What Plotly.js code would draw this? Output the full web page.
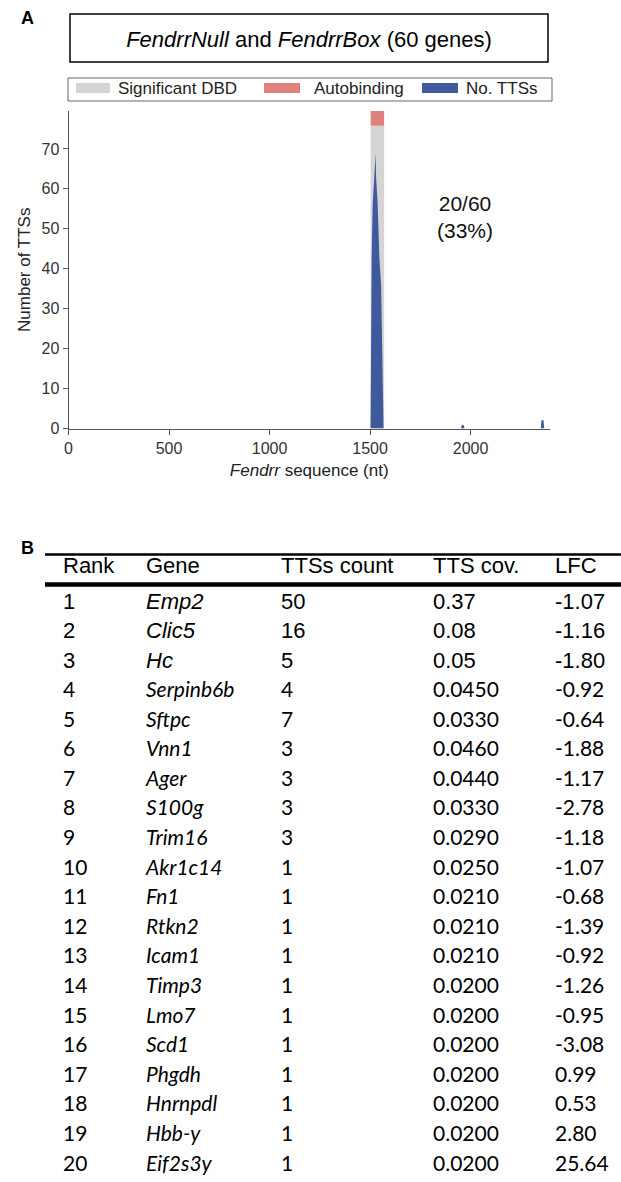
<!DOCTYPE html>
<html><head><meta charset="utf-8">
<script src="https://cdn.plot.ly/plotly-3.0.1.min.js"></script>
<style>html,body{margin:0;padding:0;background:#fff}#chart{width:621px;height:1182px}</style>
</head><body><div id="chart"></div>
<script>
// ---------- Panel A data ----------
const seqPos   = [0, 1502, 1503, 1505, 1508, 1513, 1520, 1528, 1530, 1538, 1546, 1555, 1558, 1563, 1566, 1567, 1952, 1955, 1961, 1967, 1970, 2349, 2352, 2355, 2363, 2366, 2390];
const ttsCount = [0, 0,    6,    31,   43,   56,   64,   69,   63,   56,   43,   36,   27,   14,   2,    0,    0,    0.7,  1,    0.7,  0,    0,    1.8,  2.2,  2.0,  0,    0];
const dbdRegion = [1503, 1570];
const dbdHeight = 75.8;
const autobindingHeight = 3.7;
const xTicks = [0, 500, 1000, 1500, 2000];
const yTicks = [0, 10, 20, 30, 40, 50, 60, 70];
const legendNames = ['Significant DBD', 'Autobinding', 'No. TTSs'];

// ---------- Panel B data ----------
const headers = ['Rank', 'Gene', 'TTSs count', 'TTS cov.', 'LFC'];
const ranks = ['1','2','3','4','5','6','7','8','9','10','11','12','13','14','15','16','17','18','19','20'];
const genes = ['Emp2','Clic5','Hc','Serpinb6b','Sftpc','Vnn1','Ager','S100g','Trim16','Akr1c14','Fn1','Rtkn2','Icam1','Timp3','Lmo7','Scd1','Phgdh','Hnrnpdl','Hbb-y','Eif2s3y'];
const ttsCounts = ['50','16','5','4','7','3','3','3','3','1','1','1','1','1','1','1','1','1','1','1'];
const ttsCov = ['0.37','0.08','0.05','0.0450','0.0330','0.0460','0.0440','0.0330','0.0290','0.0250','0.0210','0.0210','0.0210','0.0200','0.0200','0.0200','0.0200','0.0200','0.0200','0.0200'];
const lfc = ['-1.07','-1.16','-1.80','-0.92','-0.64','-1.88','-1.17','-2.78','-1.18','-1.07','-0.68','-1.39','-0.92','-1.26','-0.95','-3.08','0.99','0.53','2.80','25.64'];

// ---------- layout helpers ----------
const W = 621, H = 1182;
const px = v => v / W;            // x pixel -> paper
const py = v => 1 - v / H;        // y pixel -> paper

const GRAY = '#d4d4d4', RED = '#de807c', BLUE = '#3f5a9c';
const ARIAL = 'Liberation Sans, Arial, sans-serif';
const CAL = 'Lato, Carlito, Calibri, sans-serif';

// table geometry (layout only)
const colLeft = [63, 146, 281, 433, 555];     // text left edges in px
const tblTop = 556, tblBot = 1182, row1Center = 603, rowStep = 29.6, headerCenter = 567;
const rowOf = p => 1 + (p - row1Center) / rowStep;
const headerRow = rowOf(headerCenter);

const traces = [
  { type: 'bar', name: legendNames[0], x: [(dbdRegion[0] + dbdRegion[1]) / 2], width: [dbdRegion[1] - dbdRegion[0]],
    y: [dbdHeight], marker: { color: GRAY, line: { width: 0 } }, showlegend: false, hoverinfo: 'skip' },
  { type: 'bar', name: legendNames[1], x: [(dbdRegion[0] + dbdRegion[1]) / 2], width: [dbdRegion[1] - dbdRegion[0]],
    base: [dbdHeight], y: [autobindingHeight], marker: { color: RED, line: { width: 0 } }, showlegend: false, hoverinfo: 'skip' },
  { type: 'scatter', mode: 'lines', name: legendNames[2], x: seqPos, y: ttsCount, fill: 'tozeroy',
    fillcolor: BLUE, line: { color: BLUE, width: 0 }, showlegend: false, hoverinfo: 'skip' }
];

// ---------- table as text on its own axes ----------
const rowIdx = ranks.map((r, i) => i + 1);
const rowFam = ranks.map((r, i) => i < 3 ? ARIAL : CAL);
const rowSize = ranks.map((r, i) => i < 3 ? 22 : 21);
const columns = [ranks, genes.map(g => '<i>' + g + '</i>'), ttsCounts, ttsCov, lfc];
columns.forEach((vals, c) => {
  traces.push({
    type: 'scatter', mode: 'text', xaxis: 'x2', yaxis: 'y2',
    x: vals.map(() => colLeft[c]), y: rowIdx, text: vals,
    textposition: 'middle right', marker: { size: 0 },
    textfont: { family: rowFam, size: rowSize, color: '#000' },
    showlegend: false, hoverinfo: 'skip', cliponaxis: false
  });
});
traces.push({
  type: 'scatter', mode: 'text', xaxis: 'x2', yaxis: 'y2',
  x: colLeft, y: headers.map(() => headerRow), text: headers,
  textposition: 'middle right', marker: { size: 0 },
  textfont: { family: ARIAL, size: 22, color: '#000' },
  showlegend: false, hoverinfo: 'skip', cliponaxis: false
});

// custom legend (swatches + labels)
const legendSw = [[76, 110, GRAY], [264, 300, RED], [422, 458, BLUE]];
const legendTx = [116, 312, 464];

const shapes = [
  { type: 'rect', xref: 'paper', yref: 'paper', x0: px(70), x1: px(548), y0: py(14), y1: py(62),
    line: { color: '#000', width: 1.5 }, fillcolor: 'rgba(0,0,0,0)' },
  { type: 'rect', xref: 'paper', yref: 'paper', x0: px(68), x1: px(552), y0: py(78), y1: py(101),
    line: { color: '#666', width: 1 }, fillcolor: 'rgba(0,0,0,0)' },
  { type: 'line', xref: 'paper', yref: 'paper', x0: px(45), x1: 1, y0: py(554.5), y1: py(554.5),
    line: { color: '#000', width: 2.5 } },
  { type: 'line', xref: 'paper', yref: 'paper', x0: px(45), x1: 1, y0: py(584.5), y1: py(584.5),
    line: { color: '#000', width: 4.5 } }
];
legendSw.forEach(s => shapes.push({ type: 'rect', xref: 'paper', yref: 'paper', x0: px(s[0]), x1: px(s[1]),
  y0: py(83), y1: py(93), line: { width: 0 }, fillcolor: s[2] }));

const annotations = [
  { text: '<b>A</b>', xref: 'paper', yref: 'paper', x: px(27), y: py(18), xanchor: 'center', yanchor: 'middle',
    showarrow: false, font: { family: ARIAL, size: 18, color: '#000' } },
  { text: '<b>B</b>', xref: 'paper', yref: 'paper', x: px(27), y: py(548), xanchor: 'center', yanchor: 'middle',
    showarrow: false, font: { family: ARIAL, size: 18, color: '#000' } },
  { text: '20/60<br>(33%)', xref: 'x', yref: 'y', x: 1970, y: 53, xanchor: 'center', yanchor: 'middle',
    showarrow: false, font: { family: ARIAL, size: 21, color: '#111' } }
];
legendNames.forEach((n, i) => annotations.push({ text: n, xref: 'paper', yref: 'paper', x: px(legendTx[i]), y: py(88.5),
  xanchor: 'left', yanchor: 'middle', showarrow: false, font: { family: ARIAL, size: 17, color: '#222' } }));

const layout = {
  width: W, height: H,
  margin: { l: 0, r: 0, t: 0, b: 0 },
  paper_bgcolor: '#fff', plot_bgcolor: 'rgba(0,0,0,0)',
  showlegend: false, barmode: 'overlay',
  title: { text: '<i>FendrrNull</i> and <i>FendrrBox</i> (60 genes)', xref: 'paper', yref: 'paper',
    x: px(309), y: py(39), xanchor: 'center', yanchor: 'middle',
    font: { family: ARIAL, size: 22, color: '#000' } },
  xaxis: {
    domain: [px(68.5), px(550)], range: [0, 2395], tickvals: xTicks, ticks: 'outside', ticklen: 5,
    tickcolor: '#555', showline: true, linecolor: '#555', linewidth: 1, showgrid: false, zeroline: false,
    tickfont: { family: ARIAL, size: 16, color: '#333' },
    title: { text: '<i>Fendrr</i> sequence (nt)', font: { family: ARIAL, size: 17, color: '#222' }, standoff: 8 }
  },
  yaxis: {
    domain: [py(428.5), py(111)], range: [0, 79.5], tickvals: yTicks, ticks: 'outside', ticklen: 5,
    tickcolor: '#555', showline: true, linecolor: '#555', linewidth: 1, showgrid: false, zeroline: false,
    tickfont: { family: ARIAL, size: 16, color: '#333' },
    title: { text: 'Number of TTSs', font: { family: ARIAL, size: 17, color: '#222' }, standoff: 6 }
  },
  xaxis2: { domain: [0, 1], range: [0, W], visible: false, fixedrange: true },
  yaxis2: { domain: [py(tblBot), py(tblTop)], range: [rowOf(tblBot), rowOf(tblTop)], visible: false, fixedrange: true },
  shapes: shapes,
  annotations: annotations
};

Plotly.newPlot('chart', traces, layout, { displayModeBar: false, staticPlot: true });
</script>
</body></html>
